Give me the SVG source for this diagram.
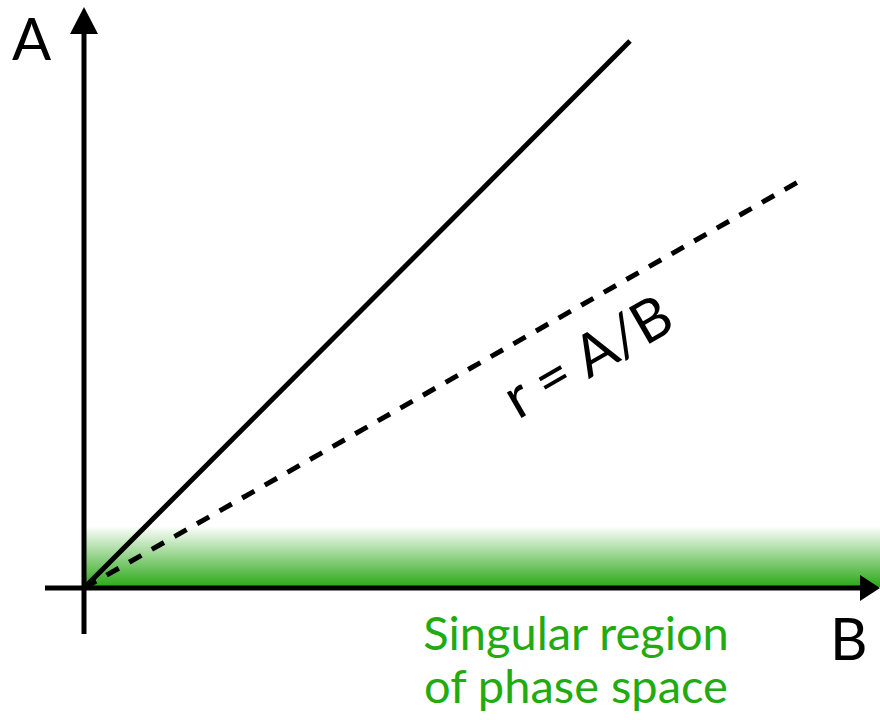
<svg xmlns="http://www.w3.org/2000/svg" width="880" height="720" viewBox="0 0 880 720">
<defs>
<linearGradient id="g" x1="0" y1="0" x2="0" y2="1">
<stop offset="0" stop-color="#2aa816" stop-opacity="0"/>
<stop offset="1" stop-color="#2aa816" stop-opacity="1"/>
</linearGradient>
</defs>
<style>
.lbl{font-family:Lato,"Open Sans",sans-serif;fill:#000}
.grn{font-family:Lato,"Open Sans",sans-serif;fill:#22aa11;font-size:47px}
.ax{stroke:#000;stroke-width:5;fill:none}
</style>
<rect id="singular-region" x="84" y="526" width="796" height="61" fill="url(#g)"/>
<g id="connectors">
<line class="ax" x1="84" y1="634" x2="84" y2="30"/>
<polygon points="84,7 70,34 98,34" fill="#000"/>
<line class="ax" x1="45" y1="588" x2="862" y2="588"/>
<polygon points="880,588 860,575 860,601" fill="#000"/>
<line class="ax" x1="84" y1="588" x2="630" y2="41"/>
<line class="ax" x1="84" y1="588" x2="805" y2="178" stroke-dasharray="14 12"/>
</g>
<g id="labels">
<text class="lbl" x="12" y="60" font-size="58">A</text>
<text class="lbl" x="830" y="660" font-size="58">B</text>
<text class="lbl" font-size="58" transform="translate(518,420) rotate(-30)">r = A/B</text>
<text class="grn" x="576" y="650" text-anchor="middle">Singular region</text>
<text class="grn" x="576" y="703" text-anchor="middle">of phase space</text>
</g>
</svg>
